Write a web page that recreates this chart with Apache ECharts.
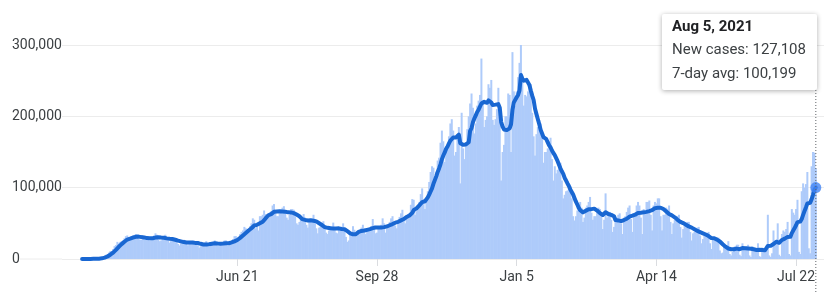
<!DOCTYPE html>
<html><head><meta charset="utf-8">
<script src="https://cdn.jsdelivr.net/npm/echarts@6/dist/echarts.min.js"></script>
<style>html,body{margin:0;padding:0;background:#fff}#c{width:824px;height:293px}</style>
</head><body><div id="c"></div>
<script>
// ---- data ----
const startDate = [2020, 2, 3]; // Mar 3, 2020 (first day of the series)
const tickDates = ['2020-06-21','2020-09-28','2021-01-05','2021-04-14','2021-07-22'];
const tickLabels = ['Jun 21','Sep 28','Jan 5','Apr 14','Jul 22'];
const yTicks = [0, 100000, 200000, 300000];
const monthNames = ['Jan','Feb','Mar','Apr','May','Jun','Jul','Aug','Sep','Oct','Nov','Dec'];
const seriesNames = ['New cases', '7-day avg'];
// daily new cases, thousands
const newCasesK = [
0.02,0.03,0.05,0.08,0.07,0.1,0.2,
0.3,0.4,0.5,0.7,0.8,0.9,1.3,
1.8,3,4.5,6,7,9,11,
11,14,18,19.5,24,22,24,
25,26,29,32,33,27,28,
31,31,33,35,34,28,27,
27,30,31,32,30,27,26,
28,30,33,36,34,27,25,
26,29,31,34,30,26,23,
25,27,29,29,26,21,19,
22,22,27,26,25,19,21,
21,22,26,24,24,19,16,
18,19,22,23,25,20,17,
22,21,23,26,23,19,18,
20,21,24,26,26,19,19,
23,26,28,32,32,26,28,
35,38,40,45,43,39,39,
46,50,57,55,43,45,40,
60,60,62,68,63,58,58,
65,67,75,77,65,60,60,
64,69,72,74,66,58,55,
62,70,70,69,60,50,48,
52,55,58,63,58,48,44,
54,56,54,62,56,43,36,
44,46,46,53,45,37,35,
40,46,46,51,44,37,36,
41,41,44,50,43,31,24,
26,34,38,46,41,34,33,
40,38,44,48,42,35,39,
42,43,46,56,47,36,37,
43,42,48,57,50,37,42,
45,52,57,60,53,47,43,
53,59,64,69,57,50,60,
63,63,76,84,83,62,67,
75,80,91,99,84,70,85,
95,108,122,130,128,106,122,
138,142,163,180,165,136,158,
160,172,190,196,180,145,150,
175,185,106,205,155,140,158,
182,200,218,232,212,176,190,
215,222,230,281,220,185,195,
200,245,240,251,195,188,196,
210,240,205,110,150,160,200,
200,232,230,150,290,235,215,
235,255,275,300,255,215,230,
228,235,245,245,205,172,145,
175,185,195,190,170,135,150,
150,155,165,170,140,110,130,
120,125,130,135,110,85,90,
95,96,105,102,85,60,54,
60,68,72,80,72,52,58,
72,75,80,87,65,55,60,
60,68,72,70,60,42,55,
92,58,65,66,55,38,45,
55,58,62,64,50,35,58,
60,66,72,75,56,38,63,
65,75,80,75,58,35,70,
65,80,80,82,62,40,75,
80,78,85,85,60,40,62,
62,72,70,75,52,35,50,
55,58,60,62,45,30,42,
48,50,52,52,38,26,36,
38,42,44,45,33,22,28,
33,35,36,38,22,14,30,
28,30,28,30,12,8,9,
18,16,15,25,7,5,10,
17,18,20,20,6,4,22,
16,17,18,20,5,3,18,
14,15,14,22,4,3,16,
14,13,16,62,5,3,8,
40,25,27,50,6,4,35,
40,38,42,52,7,5,70,
65,62,70,83,10,7,95,
106,100,105,122,15,8,130,
150,149,127.108
];
// 7-day average, thousands
const avg7K = [
0,0,0,0,0,0,0.1,
0.1,0.2,0.2,0.3,0.4,0.5,0.7,
0.9,1.3,1.9,2.6,3.5,4.7,6,
7.4,8.9,10.9,12.8,15.2,17.1,18.9,
20.9,22.6,24.2,26,27.3,28,28.6,
29.4,30.1,30.7,31.1,31.3,31.4,31.3,
30.7,30.6,30.3,29.9,29.3,29.1,29,
29.1,29.1,29.4,30,30.6,30.6,30.4,
30.1,30,29.7,29.4,28.9,28.7,28.4,
28.3,28,27.7,27,26.4,25.7,25.1,
24.7,24,23.7,23.3,23.1,22.9,23.1,
23,23,22.9,22.6,22.4,22.4,21.7,
21.3,20.9,20.3,20.1,20.3,20.4,20.6,
21.1,21.4,21.6,22,21.7,21.6,21.7,
21.4,21.4,21.6,21.6,22,22,22.1,
22.6,23.3,23.9,24.7,25.6,26.6,27.9,
29.6,31.3,33,34.9,36.4,38.3,39.9,
41.4,43.1,45.6,47,47,47.9,48,
50,51.4,52.1,54,56.9,58.7,61.3,
62,63,64.9,66.1,66.4,66.7,67,
66.9,67.1,66.7,66.3,66.4,66.1,65.4,
65.1,65.3,65,64.3,63.4,62.3,61.3,
59.9,57.7,56,55.1,54.9,54.6,54,
54.3,54.4,53.9,53.7,53.4,52.7,51.6,
50.1,48.7,47.6,46.3,44.7,43.9,43.7,
43.1,43.1,43.1,42.9,42.7,42.7,42.9,
43,42.3,42,41.9,41.7,40.9,39.1,
37,36,35.1,34.6,34.3,34.7,36,
38,38.6,39.4,39.7,39.9,40,40.9,
41.1,41.9,42.1,43.3,44,44.1,43.9,
44,43.9,44.1,44.3,44.7,44.9,45.6,
45.9,47.3,48.6,49,49.4,50.9,51,
52.1,53.1,54.1,55.4,56,56.4,58.9,
60.3,60.9,62.6,64.7,68.4,70.1,71.1,
72.9,75.3,77.4,79.6,79.7,80.9,83.4,
86.3,90.3,94.7,99.1,105.4,110.6,115.9,
122,126.9,132.7,139.9,145.1,149.4,154.6,
157.7,162,165.9,168.1,170.3,171.6,170.4,
172.6,174.4,162.4,163.7,160.1,159.4,160.6,
161.6,163.7,179.7,183.6,191.7,196.9,201.4,
206.1,209.3,211,218,219.1,220.4,221.1,
219,222.3,223.7,219.4,215.9,216.3,216.4,
217.9,217.1,212.1,192,185.6,181.6,182.1,
180.7,179.6,183.1,188.9,208.9,219.6,221.7,
226.7,230,236.4,257.9,252.9,250,252.1,
251.1,248.3,244,236.1,229,222.9,210.7,
203.1,196,188.9,181,176,170.7,171.4,
167.9,163.6,159.3,156.4,152.1,148.6,145.7,
141.4,137.1,132.1,127.1,122.9,119.3,113.6,
110,105.9,102.3,97.6,94,90.4,85.3,
80.3,76.3,71.6,68.4,66.6,65.4,66,
67.7,68.7,69.9,70.9,69.9,70.3,70.6,
68.9,67.9,66.7,64.3,63.6,61.7,61,
65.6,64.1,63.1,62.6,61.9,61.3,59.9,
54.6,54.6,54.1,53.9,53.1,52.7,54.6,
55.3,56.4,57.9,59.4,60.3,60.7,61.4,
62.1,63.4,64.6,64.6,64.9,64.4,65.4,
65.4,66.1,66.1,67.1,67.7,68.4,69.1,
71.3,71,71.7,72.1,71.9,71.9,70,
67.4,66.6,64.4,63,61.9,61.1,59.4,
58.4,56.4,55,53.1,52.1,51.4,50.3,
49.3,48.1,47,45.6,44.6,44,43.1,
41.7,40.6,39.4,38.4,37.7,37.1,36,
35.3,34.3,33.1,32.1,30.6,29.4,29.7,
29,28.3,27.1,26,24.6,23.7,20.7,
19.3,17.3,15.4,14.7,14,13.6,13.7,
13.6,13.9,14.6,13.9,13.7,13.6,15.3,
15.1,15,14.7,14.7,14.6,14.4,13.9,
13.6,13.3,12.7,13,12.9,12.9,12.6,
12.6,12.3,12.6,18.3,18.4,18.4,17.3,
21,22.7,24.3,22.6,22.7,22.9,26.7,
26.7,28.6,30.7,31,31.1,31.3,36.3,
39.9,43.3,47.3,51.7,52.1,52.4,56,
61.9,67.3,72.3,77.9,78.6,78.7,83.7,
90,97,100.199
];

// ---- build ----
const DAY = 86400000;
const t0 = Date.UTC(startDate[0], startDate[1], startDate[2]);
const dates = newCasesK.map((_, i) => t0 + i * DAY);
if (avg7K.length !== newCasesK.length) {
  document.body.insertAdjacentHTML('afterbegin', '<div style="position:absolute;color:red;z-index:9">LEN ' + newCasesK.length + ' vs ' + avg7K.length + '</div>');
}
const tickTs = tickDates.map(s => { const p = s.split('-').map(Number); return Date.UTC(p[0], p[1]-1, p[2]); });
const barData = dates.map((t, i) => [t, Math.round(newCasesK[i] * 1000)]);
const lineData = dates.map((t, i) => [t, Math.round(avg7K[i] * 1000)]);
const last = dates.length - 1;

// layout (pixels -> axis range)
const gridLeft = 62, firstX = 82.1, pxPerDay = 1.411, width = 824;
const xMin = t0 - (firstX - gridLeft) / pxPerDay * DAY;
const xMax = t0 + (width - firstX) / pxPerDay * DAY;

const FONT = 'Roboto, "Noto Sans", sans-serif';
const chart = echarts.init(document.getElementById('c'), null, {renderer: 'canvas'});
chart.setOption({
  animation: false,
  grid: {left: gridLeft, right: 0, top: 45, bottom: 34, containLabel: false},
  xAxis: {
    type: 'value', min: xMin, max: xMax, scale: true,
    axisLine: {show: false},
    splitLine: {show: false},
    axisTick: {show: true, customValues: tickTs, length: 7, lineStyle: {color: '#dadce0', width: 1}},
    axisLabel: {
      customValues: tickTs, margin: 11, color: '#3c4043', fontSize: 14, fontFamily: FONT,
      showMinLabel: true, showMaxLabel: true, hideOverlap: false,
      formatter: v => { const k = tickTs.indexOf(v); return k >= 0 ? tickLabels[k] : ''; }
    }
  },
  yAxis: {
    type: 'value', min: yTicks[0], max: yTicks[yTicks.length - 1], interval: yTicks[1] - yTicks[0],
    axisLine: {show: false}, axisTick: {show: false},
    splitLine: {lineStyle: {color: '#ececec', width: 1}},
    axisLabel: {align: 'left', margin: 50, color: '#3c4043', fontSize: 14, fontFamily: FONT,
      formatter: v => v.toLocaleString('en-US')}
  },
  series: [
    {name: seriesNames[0], type: 'bar', data: barData, barWidth: 2, itemStyle: {color: '#aecbfa'}, z: 2},
    {name: seriesNames[1], type: 'line', data: lineData, showSymbol: false, symbol: 'none',
      lineStyle: {width: 4, color: '#1967d2', join: 'round', cap: 'round'}, z: 3},
    {type: 'scatter', data: [lineData[last]], symbolSize: 11, itemStyle: {color: '#4285f4'}, z: 4}
  ]
});

const p = chart.convertToPixel({gridIndex: 0}, [dates[last], 0]);
const d = new Date(dates[last]);
const title = monthNames[d.getUTCMonth()] + ' ' + d.getUTCDate() + ', ' + d.getUTCFullYear();
const bx = 662, by = 14, bw = 155, bh = 76;
chart.setOption({
  graphic: [
    {type: 'line', silent: true, shape: {x1: 20, y1: p[1], x2: gridLeft, y2: p[1]}, style: {stroke: '#ececec', lineWidth: 1}},
    {type: 'line', silent: true, z: 50, shape: {x1: p[0], y1: by + bh, x2: p[0], y2: 293}, style: {stroke: '#5f6368', lineWidth: 1, lineDash: [1, 2]}},
    {type: 'group', z: 100, children: [
      {type: 'rect', shape: {x: bx, y: by, width: bw, height: bh, r: 2},
        style: {fill: '#fff', shadowBlur: 5, shadowColor: 'rgba(0,0,0,0.32)', shadowOffsetY: 1}},
      {type: 'text', x: bx + 10, y: by + 13, style: {text: title, font: 'bold 15px ' + FONT, fill: '#202124', verticalAlign: 'middle'}},
      {type: 'text', x: bx + 10, y: by + 36, style: {text: seriesNames[0] + ': ' + barData[last][1].toLocaleString('en-US'), font: '15px ' + FONT, fill: '#3c4043', verticalAlign: 'middle'}},
      {type: 'text', x: bx + 10, y: by + 60.5, style: {text: seriesNames[1] + ': ' + lineData[last][1].toLocaleString('en-US'), font: '15px ' + FONT, fill: '#3c4043', verticalAlign: 'middle'}}
    ]}
  ]
});
</script></body></html>
